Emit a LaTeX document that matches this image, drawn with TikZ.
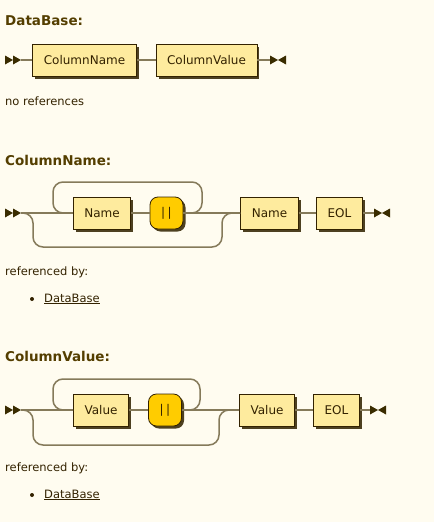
\documentclass[tikz,border=0pt]{standalone}
\usepackage{fontspec}
\setmainfont{DejaVu Sans}
\usetikzlibrary{shadows}
\definecolor{rrbg}{HTML}{FFFCF0}
\definecolor{rrfill}{HTML}{FEEB9E}
\definecolor{rrgold}{HTML}{FFCC00}
\definecolor{rrborder}{HTML}{332200}
\definecolor{rrshadow}{HTML}{4D4020}
\definecolor{rrline}{HTML}{857A5A}
\definecolor{rrdark}{HTML}{3A2C00}
\definecolor{rrtitle}{HTML}{543E00}
\definecolor{rrtext}{HTML}{332200}
\tikzset{
    rail/.style={draw=rrline, line width=1.5pt},
    ntbox/.style={draw=rrborder, fill=rrfill, line width=0.8pt, minimum height=32pt,
        inner xsep=11pt, inner ysep=0pt, text=rrtext, font=\fontsize{12}{14}\selectfont,
        drop shadow={shadow xshift=2.5pt, shadow yshift=-2.5pt, fill=rrshadow, opacity=1}},
    tmbox/.style={ntbox, fill=rrgold, rounded corners=8pt, minimum width=33pt},
    heading/.style={anchor=west, inner sep=0pt, text=rrtitle, font=\bfseries\fontsize{13.5}{16}\selectfont},
    plain/.style={anchor=west, inner sep=0pt, text=rrtext, font=\fontsize{11.5}{14}\selectfont},
    rrstart/.pic={\fill[rrdark] (0,-4.5) -- (8,0) -- (0,4.5) -- cycle (8,-4.5) -- (16,0) -- (8,4.5) -- cycle;},
    rrend/.pic={\fill[rrdark] (0,-4.5) -- (8,0) -- (0,4.5) -- cycle (16,-4.5) -- (8,0) -- (16,4.5) -- cycle;}
}
\begin{document}
\begin{tikzpicture}[x=1pt, y=-1pt]
    \fill[rrbg] (0,0) rectangle (434,522);
    \useasboundingbox (0,0) rectangle (434,522);

    % DataBase
    \node[heading] (hDb) at (5,21) {DataBase:};
    \pic at (5,60) {rrstart};
    \coordinate (s1) at (21,60);
    \node[ntbox] (cName) at (84.5,60) {ColumnName};
    \node[ntbox] (cValue) at (206.5,60) {ColumnValue};
    \coordinate (e1) at (270,60);
    \pic at (e1) {rrend};
    \draw[rail] (s1) -- (cName) -- (cValue) -- (e1);
    \node[plain] (noRef) at (5,101) {no references};

    % ColumnName
    \node[heading] (hName) at (5,160) {ColumnName:};
    \pic at (5,213) {rrstart};
    \coordinate (s2) at (21,213);
    \node[ntbox] (nA) at (102,213) {Name};
    \node[tmbox] (tA) at (166.5,213) {|\hspace{2.5pt}|};
    \node[ntbox] (nB) at (269.5,213) {Name};
    \node[ntbox] (eolA) at (339.5,213) {EOL};
    \coordinate (e2) at (374,213);
    \pic at (e2) {rrend};
    \draw[rail] (s2) -- (nA) -- (tA) -- (nB) -- (eolA) -- (e2);
    \draw[rail, rounded corners=10pt] (tA.east) -| (202,182) -| (53,213) -- (nA.west);
    \draw[rail, rounded corners=10pt] (s2) -| (33,247) -| (222,213) -- (nB.west);

    % ColumnValue
    \node[heading] (hValue) at (5,356) {ColumnValue:};
    \pic at (5,410) {rrstart};
    \coordinate (s3) at (21,410);
    \node[ntbox] (vA) at (101,410) {Value};
    \node[tmbox] (tB) at (165,410) {|\hspace{2.5pt}|};
    \node[ntbox] (vB) at (267,410) {Value};
    \node[ntbox] (eolB) at (336.5,410) {EOL};
    \coordinate (e3) at (370,410);
    \pic at (e3) {rrend};
    \draw[rail] (s3) -- (vA) -- (tB) -- (vB) -- (eolB) -- (e3);
    \draw[rail, rounded corners=10pt] (tB.east) -| (200,379) -| (53,410) -- (vA.west);
    \draw[rail, rounded corners=10pt] (s3) -| (33,445) -| (219,410) -- (vB.west);

    % references
    \foreach \y/\n in {272/a, 468/b} {
        \node[plain] (ref\n) at (5,\y) {referenced by:};
        \fill[rrtext] (32,\y+27) circle (2pt);
        \node[plain] (link\n) at (44,\y+27) {\underline{DataBase}};
    }
\end{tikzpicture}
\end{document}
